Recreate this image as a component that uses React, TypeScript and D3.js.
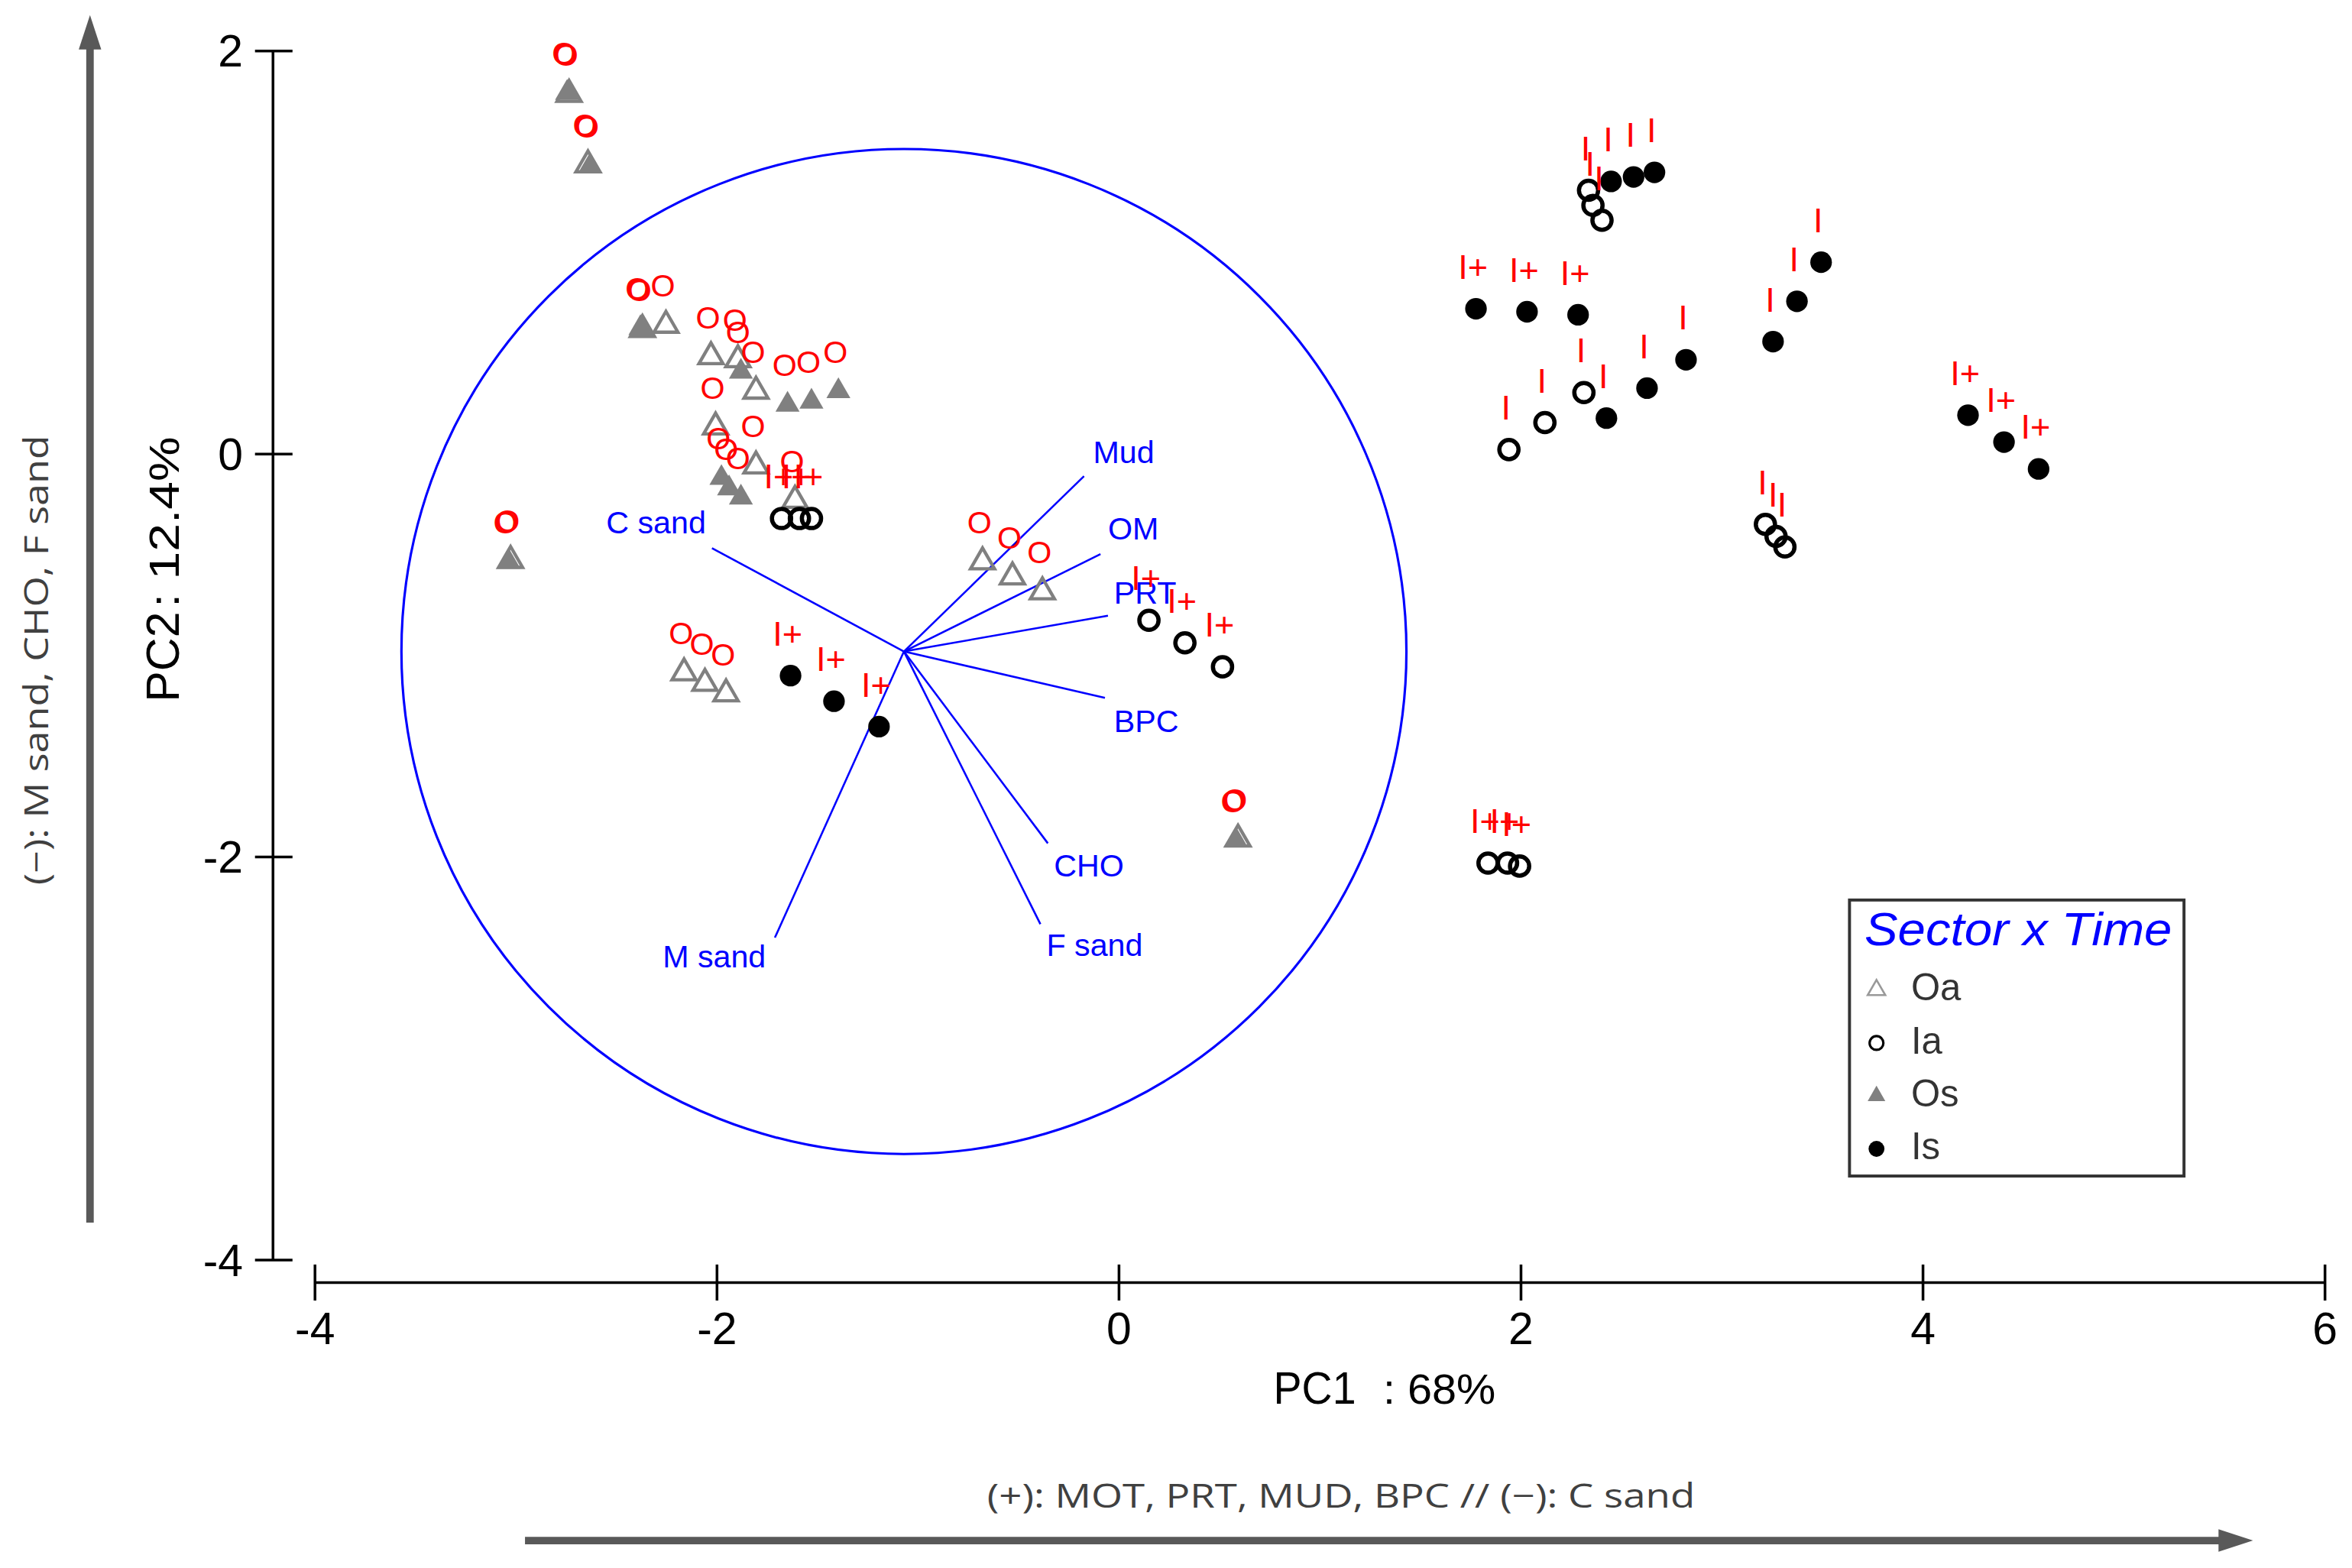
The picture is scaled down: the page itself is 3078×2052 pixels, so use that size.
import React from 'react'
import * as d3 from 'd3'

// axis ticks
const xTicks = [-4, -2, 0, 2, 4, 6]
const yTicks = [2, 0, -2, -4]

// Oa : open grey triangles (PC1, PC2)
const oaPoints: [number, number][] = [
  [-2.642, 1.435], [-2.254, 0.639], [-2.03, 0.483], [-1.896, 0.468], [-1.806, 0.312],
  [-2.007, 0.134], [-1.806, -0.059], [-1.612, -0.23],
  [-0.679, -0.535], [-0.53, -0.61], [-0.381, -0.684],
  [-2.164, -1.086], [-2.06, -1.138], [-1.955, -1.19],
  [-2.736, 1.785], [-3.027, -0.528], [-2.371, 0.618], [0.592, -1.911],
]

// Os : filled grey triangles
const osPoints: [number, number][] = [
  [-2.746, 1.792], [-2.632, 1.428], [-3.037, -0.535], [-2.381, 0.625], [-1.881, 0.409],
  [-1.649, 0.245], [-1.53, 0.26], [-1.396, 0.312],
  [-1.978, -0.119], [-1.94, -0.171], [-1.881, -0.216],
  [0.582, -1.918],
]

// Ia : open black circles
const iaPoints: [number, number][] = [
  [2.336, 1.309], [2.358, 1.234], [2.403, 1.16],
  [2.313, 0.305], [2.119, 0.156], [1.94, 0.022],
  [3.216, -0.349], [3.269, -0.409], [3.313, -0.461],
  [1.836, -2.03], [1.933, -2.03], [1.993, -2.045],
  [0.149, -0.825], [0.328, -0.937], [0.515, -1.056],
  [-1.679, -0.32], [-1.59, -0.32], [-1.53, -0.32],
]
const iaLabels = ['I', 'I', 'I', 'I', 'I', 'I', 'I', 'I', 'I',
  'I+', 'I+', 'I+', 'I+', 'I+', 'I+', 'I+', 'I+', 'I+']

// Is : filled black circles
const isPoints: [number, number][] = [
  [2.448, 1.353], [2.56, 1.375], [2.664, 1.398],
  [1.776, 0.721], [2.03, 0.706], [2.284, 0.691],
  [3.493, 0.952], [3.373, 0.758], [3.254, 0.558],
  [2.821, 0.468], [2.627, 0.327], [2.425, 0.178],
  [4.224, 0.193], [4.403, 0.059], [4.575, -0.074],
  [-1.634, -1.1], [-1.418, -1.227], [-1.194, -1.353],
]
const isLabels = ['I', 'I', 'I', 'I+', 'I+', 'I+', 'I', 'I', 'I', 'I', 'I', 'I',
  'I+', 'I+', 'I+', 'I+', 'I+', 'I+']

// variable vectors, relative to the circle centre
const varNames = ['Mud', 'OM', 'PRT', 'BPC', 'CHO', 'F sand', 'M sand', 'C sand']
const varLoadings: [number, number][] = [
  [0.896, 0.87], [0.978, 0.483], [1.015, 0.178], [1.0, -0.23],
  [0.716, -0.952], [0.679, -1.353], [-0.642, -1.42], [-0.955, 0.513],
]
const circleCentre: [number, number] = [-1.07, -0.98]
const circleRadius = 2.5

const legendNames = ['Oa', 'Ia', 'Os', 'Is']

// label nudges for the vector names (px)
const varLabelPos: Record<string, [number, number, string]> = {
  'Mud': [6, -9, 'start'],
  'OM': [5, -10, 'start'],
  'PRT': [4, -8, 'start'],
  'BPC': [6, 23, 'start'],
  'CHO': [4, 22, 'start'],
  'F sand': [4, 21, 'start'],
  'M sand': [-6, 20, 'end'],
  'C sand': [-4, -10, 'end'],
}

const W = 1568
const H = 1045.3
const font = 'Liberation Sans, Arial, sans-serif'
const grey = '#808080'

export default function App() {
  const x = d3.scaleLinear().domain([-4, 6]).range([210, 1550])
  const y = d3.scaleLinear().domain([-4, 2]).range([840, 34])
  const tri = d3.symbol().type(d3.symbolTriangle).size(111)
  const triSmall = d3.symbol().type(d3.symbolTriangle).size(60)

  const cx = x(circleCentre[0])
  const cy = y(circleCentre[1])
  const r = x(circleRadius) - x(0)

  const redLabel = (px: number, py: number, t: string, k: string, fs: number) => (
    <text key={k} x={px - 2} y={py - 19} textAnchor="middle" fontSize={fs}
      fontFamily={font} fill="#ff0000">{t}</text>
  )

  return (
    <svg width={3078} height={2052} viewBox={`0 0 ${W} ${H}`}
      style={{ position: 'absolute', left: 0, top: 0, background: '#fff' }}>
      <rect width={W} height={H} fill="#fff" />

      {/* left arrow + caption */}
      <line x1={60} y1={815} x2={60} y2={30} stroke="#595959" strokeWidth={5} />
      <polygon points="60,10 52.5,33 67.5,33" fill="#595959" />
      <text transform="translate(32,440) rotate(-90)" textAnchor="middle" fontSize={22}
        fontFamily="Open Sans, Noto Sans, sans-serif" fill="#404040" textLength={300}
        lengthAdjust="spacingAndGlyphs">(−): M sand, CHO, F sand</text>

      {/* bottom arrow + caption */}
      <line x1={350} y1={1027} x2={1482} y2={1027} stroke="#595959" strokeWidth={5} />
      <polygon points="1502,1027 1479,1019.5 1479,1034.5" fill="#595959" />
      <text x={658} y={1005} fontSize={22} fontFamily="Open Sans, Noto Sans, sans-serif"
        fill="#404040" textLength={472} lengthAdjust="spacingAndGlyphs">
        (+): MOT, PRT, MUD, BPC // (−): C sand</text>

      {/* y axis */}
      <line x1={182} y1={y(2)} x2={182} y2={y(-4)} stroke="#000" strokeWidth={1.8} />
      {yTicks.map(t => (
        <g key={'y' + t}>
          <line x1={170} x2={195} y1={y(t)} y2={y(t)} stroke="#000" strokeWidth={1.8} />
          <text x={162} y={y(t) + 10.5} textAnchor="end" fontSize={30} fontFamily={font}>{t}</text>
        </g>
      ))}
      <text transform="translate(119,468) rotate(-90)" fontSize={31} fontFamily={font}>PC2</text>
      <text transform="translate(119,405) rotate(-90)" fontSize={28} fontFamily={font}
        textLength={114} lengthAdjust="spacingAndGlyphs">:  12.4%</text>

      {/* x axis */}
      <line x1={x(-4)} y1={855} x2={x(6)} y2={855} stroke="#000" strokeWidth={1.8} />
      {xTicks.map(t => (
        <g key={'x' + t}>
          <line x1={x(t)} x2={x(t)} y1={843} y2={867} stroke="#000" strokeWidth={1.8} />
          <text x={x(t)} y={896} textAnchor="middle" fontSize={30} fontFamily={font}>{t}</text>
        </g>
      ))}
      <text x={849} y={936} fontSize={30} fontFamily={font} textLength={55}
        lengthAdjust="spacingAndGlyphs">PC1</text>
      <text x={922} y={936} fontSize={28} fontFamily={font} textLength={75}
        lengthAdjust="spacingAndGlyphs">:  68%</text>

      {/* correlation circle and vectors */}
      <circle cx={cx} cy={cy} r={r} fill="none" stroke="#0000ff" strokeWidth={1.6} />
      {varNames.map((n, i) => {
        const ex = x(circleCentre[0] + varLoadings[i][0])
        const ey = y(circleCentre[1] + varLoadings[i][1])
        const [dx, dy, anchor] = varLabelPos[n]
        return (
          <g key={n}>
            <line x1={cx} y1={cy} x2={ex} y2={ey} stroke="#0000ff" strokeWidth={1.3} />
            <text x={ex + dx} y={ey + dy} textAnchor={anchor as any} fontSize={21}
              fontFamily={font} fill="#0000ff">{n}</text>
          </g>
        )
      })}

      {/* samples */}
      {oaPoints.map((p, i) => (
        <path key={'oa' + i} d={tri()!} transform={`translate(${x(p[0])},${y(p[1])})`}
          fill="none" stroke={grey} strokeWidth={2.2} />
      ))}
      {osPoints.map((p, i) => (
        <path key={'os' + i} d={tri()!} transform={`translate(${x(p[0])},${y(p[1])})`}
          fill={grey} />
      ))}
      {iaPoints.map((p, i) => (
        <circle key={'ia' + i} cx={x(p[0])} cy={y(p[1])} r={6.4} fill="none"
          stroke="#000" strokeWidth={2.8} />
      ))}
      {isPoints.map((p, i) => (
        <circle key={'is' + i} cx={x(p[0])} cy={y(p[1])} r={7.2} fill="#000" />
      ))}

      {/* red sample labels */}
      {oaPoints.map((p, i) => redLabel(x(p[0]), y(p[1]), 'O', 'loa' + i, 21))}
      {osPoints.map((p, i) => redLabel(x(p[0]), y(p[1]), 'O', 'los' + i, 21))}
      {iaPoints.map((p, i) => redLabel(x(p[0]), y(p[1]) - 1, iaLabels[i], 'lia' + i, 23))}
      {isPoints.map((p, i) => redLabel(x(p[0]), y(p[1]) - 1, isLabels[i], 'lis' + i, 23))}

      {/* legend */}
      <rect x={1233} y={600} width={223} height={184} fill="#fff" stroke="#333" strokeWidth={2} />
      <text x={1243} y={630} fontSize={31} fontStyle="italic" fontFamily={font} fill="#0000ff"
        textLength={205} lengthAdjust="spacingAndGlyphs">Sector x Time</text>
      {legendNames.map((n, i) => {
        const ly = 660 + i * 35.3
        let sym
        if (n === 'Oa') sym = <path d={triSmall()!} transform={`translate(1251,${ly})`} fill="none" stroke="#999" strokeWidth={1.3} />
        else if (n === 'Os') sym = <path d={triSmall()!} transform={`translate(1251,${ly})`} fill={grey} />
        else if (n === 'Ia') sym = <circle cx={1251} cy={ly} r={4.6} fill="none" stroke="#000" strokeWidth={1.6} />
        else sym = <circle cx={1251} cy={ly} r={5.3} fill="#000" />
        return (
          <g key={n}>
            {sym}
            <text x={1274} y={ly + 7} fontSize={25} fontFamily={font} fill="#333">{n}</text>
          </g>
        )
      })}
    </svg>
  )
}
